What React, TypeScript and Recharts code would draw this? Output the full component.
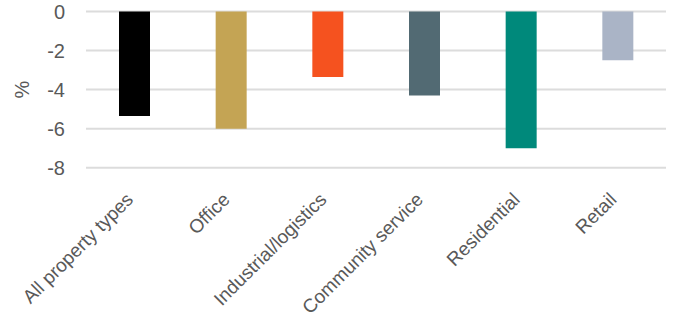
import React from 'react';
import { BarChart, Bar, Cell, XAxis, YAxis, CartesianGrid } from 'recharts';

const categories = ['All property types', 'Office', 'Industrial/logistics', 'Community service', 'Residential', 'Retail'];
const values = [-5.35, -6.0, -3.35, -4.3, -7.0, -2.5];
const colors = ['#000000', '#C4A454', '#F5521F', '#526A73', '#00897B', '#AAB4C6'];
const yTicks = [0, -2, -4, -6, -8];

const data = categories.map((name, i) => ({ name, value: values[i] }));

const FONT = '"Liberation Sans", Arial, sans-serif';
const TEXT = '#595959';

// rotated category label, end of text at the bar centre
const CategoryTick = (props: any) => {
  const { x, y, payload } = props;
  return (
    <g transform={`translate(${x},${y})`}>
      <text transform="rotate(-45)" textAnchor="end" fill={TEXT} fontSize={19} fontFamily={FONT}>
        {payload.value}
      </text>
    </g>
  );
};

export default function App() {
  return (
    <div style={{ position: 'absolute', left: 0, top: 0, width: 674, height: 325, background: '#fff' }}>
      <BarChart width={674} height={325} data={data} margin={{ top: 11.5, right: 8, left: 0, bottom: 0 }}>
        <CartesianGrid vertical={false} stroke="#dcdcdc" strokeWidth={2} />
        <XAxis
          dataKey="name"
          interval={0}
          height={157.3}
          axisLine={false}
          tickLine={false}
          tickSize={0}
          tickMargin={33}
          tick={<CategoryTick />}
        />
        <YAxis
          width={86}
          domain={[-8, 0]}
          ticks={yTicks}
          interval={0}
          axisLine={false}
          tickLine={false}
          tickSize={0}
          tickMargin={21}
          tick={{ fill: TEXT, fontSize: 20, fontFamily: FONT }}
          label={{ value: '%', angle: -90, position: 'center', dx: -21, fill: TEXT, fontSize: 20, fontFamily: FONT }}
        />
        <Bar dataKey="value" barSize={31} isAnimationActive={false}>
          {data.map((d, i) => (
            <Cell key={d.name} fill={colors[i]} />
          ))}
        </Bar>
      </BarChart>
    </div>
  );
}
